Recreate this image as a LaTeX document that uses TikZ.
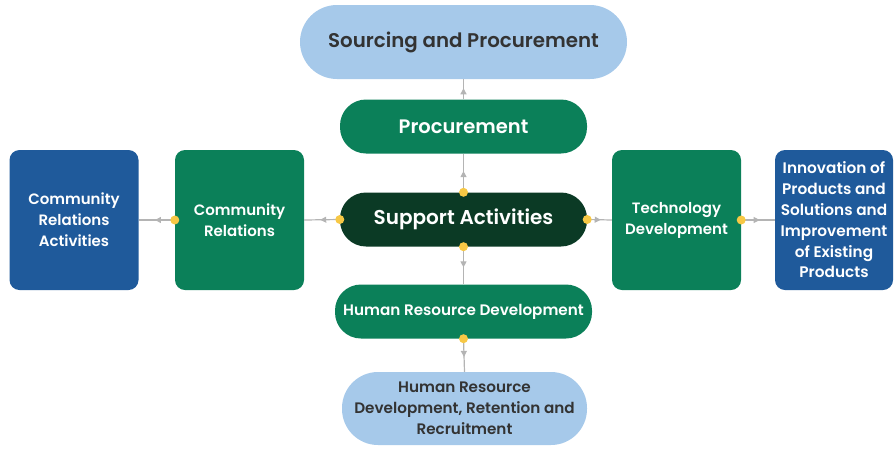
\documentclass[tikz,border=0pt]{standalone}
\usepackage{fontspec}
\setmainfont{Poppins}[BoldFont={Poppins SemiBold}]
\usetikzlibrary{arrows.meta,decorations.markings}

\definecolor{skyblue}{HTML}{A6C9EA}
\definecolor{leaf}{HTML}{0B8059}
\definecolor{forest}{HTML}{0B3A25}
\definecolor{navy}{HTML}{1F5A9B}
\definecolor{ink}{HTML}{333333}
\definecolor{wire}{HTML}{B4B4B4}
\definecolor{dot}{HTML}{F7C845}

\begin{document}
\begin{tikzpicture}[x=1pt,y=-1pt,
  box/.style={rectangle, inner sep=0pt, align=center, font=\bfseries},
  pill/.style={box, minimum width=247pt, minimum height=54pt, rounded corners=26pt},
  tile/.style={box, minimum width=129pt, minimum height=140pt, rounded corners=10pt},
  flow/.style={draw=wire, line width=1.2pt, postaction={decorate},
    decoration={markings, mark=at position 0.55 with {\arrow{Triangle[length=6pt,width=6pt]}}}},
  knob/.style={circle, fill=dot, inner sep=0pt, minimum size=9pt}]

\useasboundingbox (0,0) rectangle (894,448);

\node[box, fill=skyblue, text=ink, minimum width=327pt, minimum height=74pt,
  rounded corners=37pt, font=\bfseries\fontsize{19.8}{24}\selectfont] (SP) at (463.5,42)
{Sourcing and Procurement};%

\node[pill, fill=leaf, text=white, font=\bfseries\fontsize{19.5}{23}\selectfont] (P) at (463.5,126.5)
{Procurement};%

\node[pill, fill=forest, text=white, font=\bfseries\fontsize{20}{24}\selectfont] (S) at (463.5,219.5)
{Support Activities};%

\node[pill, fill=leaf, text=white, minimum width=257pt,
  font=\bfseries\fontsize{15.2}{18}\selectfont] (H) at (463.5,311.5)
{Human Resource Development};%

\node[box, fill=skyblue, text=ink, minimum width=245pt, minimum height=73pt,
  rounded corners=36pt, font=\bfseries\fontsize{15.2}{21}\selectfont] (HR) at (464.5,408.5)
{Human Resource\\Development, Retention and\\Recruitment};%

\node[tile, fill=leaf, text=white, font=\bfseries\fontsize{15}{21}\selectfont] (C) at (239.5,220)
{Community\\Relations};%

\node[tile, fill=navy, text=white, font=\bfseries\fontsize{15}{21}\selectfont] (CA) at (74,220)
{Community\\Relations\\Activities};%

\node[tile, fill=leaf, text=white, font=\bfseries\fontsize{15}{21}\selectfont] (T) at (676.5,220)
{Technology\\Development};%

\node[tile, fill=navy, text=white, minimum width=118pt,
  font=\bfseries\fontsize{15.3}{20.8}\selectfont] (I) at (834,220)
{Innovation of\\Products and\\Solutions and\\Improvement\\of Existing\\Products};%

\path[flow] (P.north) -- (SP.south);
\path[flow] (S.north) -- (P.south);
\path[flow] (S.south) -- (H.north);
\path[flow] (H.south) -- (HR.north);
\path[flow] (S.west) -- (C.east);
\path[flow] (C.west) -- (CA.east);
\path[flow] (S.east) -- (T.west);
\path[flow] (T.east) -- (I.west);

\foreach \k in {S.north,S.south,S.west,S.east,H.south,C.west,T.east}
  \node[knob] at (\k) {};

\end{tikzpicture}
\end{document}
